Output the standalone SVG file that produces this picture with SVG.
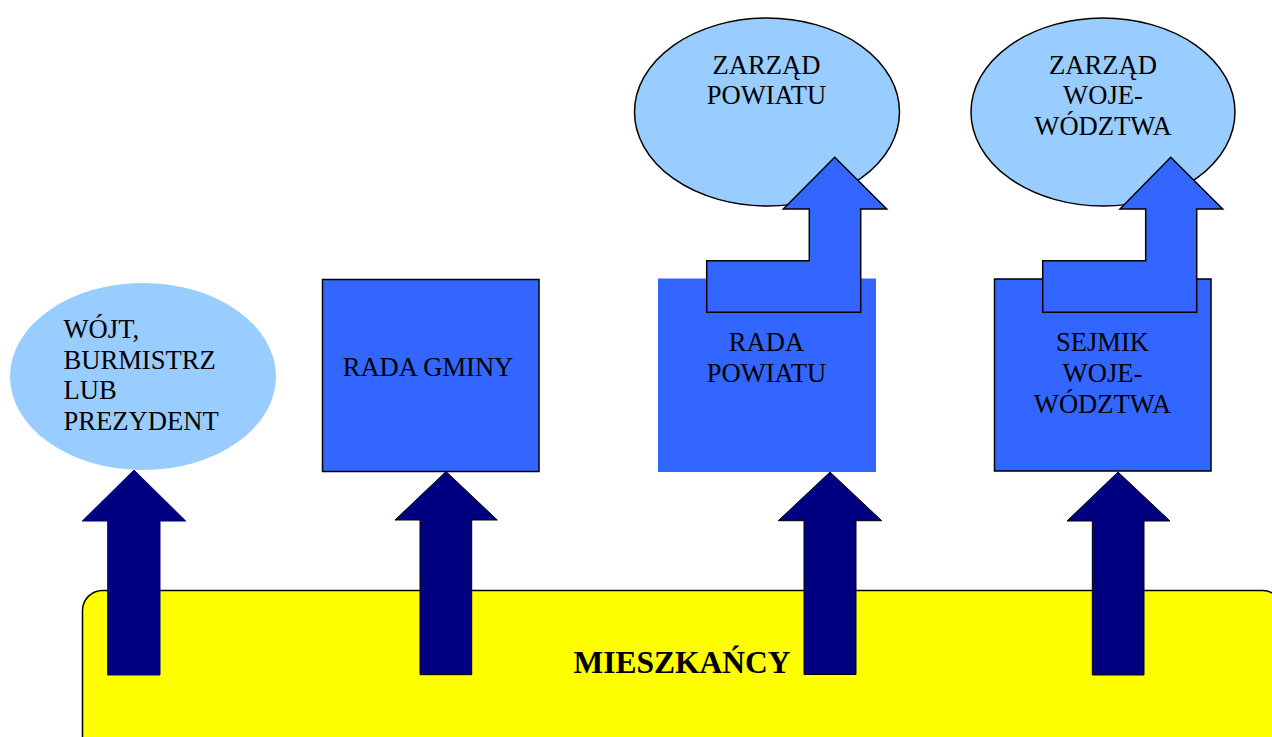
<svg xmlns="http://www.w3.org/2000/svg" width="1272" height="737" viewBox="0 0 1272 737">
<style>
.t{font-family:"Liberation Serif","Times New Roman",serif;font-size:26.6px;fill:#000}
.c{text-anchor:middle}
.b{font-weight:bold;font-size:31.5px}
.lb{fill:#99CCFF}
.bl{fill:#3366FF}
.nv{fill:#000080;stroke:#000;stroke-width:1}
.ol{stroke:#000;stroke-width:1.5}
</style>
<rect width="1272" height="737" fill="#fff"/>
<g id="mieszkancy">
<rect x="82.5" y="590.5" width="1200" height="170" rx="20" fill="#FFFF00" class="ol"/>
</g>
<g id="wojt">
<ellipse cx="143" cy="376.5" rx="133" ry="93.5" class="lb"/>
<text class="t" x="63.5" y="338">WÓJT,</text>
<text class="t" x="63.5" y="368.5">BURMISTRZ</text>
<text class="t" x="63.5" y="399">LUB</text>
<text class="t" x="63.5" y="429.5">PREZYDENT</text>
</g>
<g id="rada-gminy">
<rect x="322.5" y="279.5" width="216.5" height="192" class="bl ol"/>
<text class="t c" x="428" y="376">RADA GMINY</text>
</g>
<g id="zarzad-powiatu">
<ellipse cx="767" cy="112" rx="132.5" ry="94" class="lb ol"/>
<text class="t c" x="766.5" y="73.5">ZARZĄD</text>
<text class="t c" x="766.5" y="104">POWIATU</text>
</g>
<g id="rada-powiatu">
<rect x="658" y="278.5" width="218" height="193.5" class="bl"/>
<text class="t c" x="766.5" y="351">RADA</text>
<text class="t c" x="766.5" y="381.7">POWIATU</text>
</g>
<g id="zarzad-wojewodztwa">
<ellipse cx="1103" cy="112" rx="132" ry="94" class="lb ol"/>
<text class="t c" x="1103" y="73.5">ZARZĄD</text>
<text class="t c" x="1103" y="104">WOJE-</text>
<text class="t c" x="1103" y="135">WÓDZTWA</text>
</g>
<g id="sejmik">
<rect x="994.5" y="279" width="216.5" height="192" class="bl ol"/>
<text class="t c" x="1102.5" y="351">SEJMIK</text>
<text class="t c" x="1102.5" y="381.7">WOJE-</text>
<text class="t c" x="1102.5" y="412.7">WÓDZTWA</text>
</g>
<g id="connectors">
<path class="nv" style="stroke:#000080" d="M134,470 L185.7,521 L160,521 L160,675 L107.7,675 L107.7,521 L82.3,521 Z"/>
<path class="nv" d="M446,471.5 L497.3,520 L471.7,520 L471.7,674.7 L420,674.7 L420,520 L395,520 Z"/>
<path class="nv" d="M830,472 L881.7,520.7 L856,520.7 L856,674.5 L804,674.5 L804,520.7 L778.3,520.7 Z"/>
<path class="nv" d="M1118,472 L1170,521 L1144,521 L1144,675 L1092.3,675 L1092.3,521 L1067,521 Z"/>
<path class="bl ol" d="M834.7,157.3 L886.7,209 L860.7,209 L860.7,312.3 L706.7,312.3 L706.7,260.7 L809.3,260.7 L809.3,209 L783.3,209 Z"/>
<path class="bl ol" d="M1170.7,157.3 L1222.7,209 L1196.7,209 L1196.7,312.3 L1042.7,312.3 L1042.7,260.7 L1145.7,260.7 L1145.7,209 L1120,209 Z"/>
</g>
<text class="t b" x="573.5" y="673.3">MIESZKAŃCY</text>
</svg>
